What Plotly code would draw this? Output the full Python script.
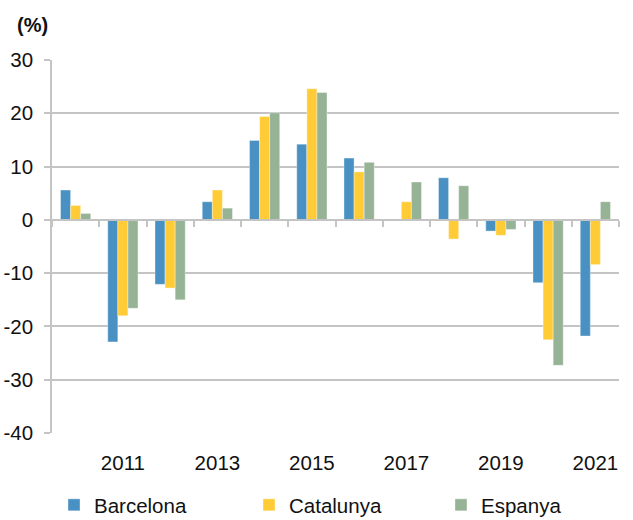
import plotly.graph_objects as go

years = [2010, 2011, 2012, 2013, 2014, 2015, 2016, 2017, 2018, 2019, 2020, 2021]
barcelona = [5.6, -22.9, -12.1, 3.4, 14.9, 14.2, 11.6, 0.1, 7.9, -2.1, -11.8, -21.8]
catalunya = [2.7, -18.0, -12.8, 5.6, 19.4, 24.6, 9.0, 3.4, -3.6, -2.9, -22.5, -8.4]
espanya = [1.2, -16.6, -15.0, 2.2, 20.1, 23.9, 10.8, 7.1, 6.4, -1.8, -27.3, 3.4]
tick_years = [2011, 2013, 2015, 2017, 2019, 2021]
y_ticks = [30, 20, 10, 0, -10, -20, -30, -40]

series = [("Barcelona", barcelona, "#4A91C3"),
          ("Catalunya", catalunya, "#FFCC38"),
          ("Espanya", espanya, "#97B396")]

FONT = "Liberation Sans, Arial, sans-serif"
GRID = "#C4C4C4"
FS = 20.5

W, H = 633, 520
ML, MR, MT, MB = 52, 14, 60, 87
plot_h = H - MT - MB
plot_w = W - ML - MR

# one legend per series so each entry sits where the reference puts it
legend_ids = ["legend", "legend2", "legend3"]
legend_left_px = [54, 249, 441]

fig = go.Figure()
for (name, vals, col), lid in zip(series, legend_ids):
    fig.add_trace(go.Bar(x=years, y=vals, name=name, legend=lid,
                         marker=dict(color=col, line=dict(color="rgba(255,255,255,0.6)", width=0.6))))

# invisible trace to carry the zero-line axis with boundary ticks
fig.add_trace(go.Scatter(x=[years[0], years[-1]], y=[0, 0], xaxis="x2", mode="lines",
                         line=dict(width=0), showlegend=False, hoverinfo="skip"))

y_min, y_max = -40, 30
legend_common = dict(orientation="h", xanchor="left", y=-(MB + 5) / plot_h, yanchor="bottom",
                     bgcolor="rgba(0,0,0,0)", font=dict(size=FS), itemwidth=30)

fig.update_layout(
    width=W, height=H,
    margin=dict(l=ML, r=MR, t=MT, b=MB, autoexpand=False),
    paper_bgcolor="white", plot_bgcolor="white",
    font=dict(family=FONT, size=FS, color="#111111"),
    barmode="group", bargap=0.36, bargroupgap=0,
    xaxis=dict(range=[2009.5, 2021.5], tickvals=tick_years,
               ticktext=[str(y) for y in tick_years],
               showgrid=False, zeroline=False, showline=False, ticks="",
               ticklabelstandoff=15, tickfont=dict(size=FS), automargin=False),
    xaxis2=dict(range=[2009.5, 2021.5], overlaying="x", anchor="free",
                position=(0 - y_min) / (y_max - y_min), side="bottom",
                tickvals=[y + 0.5 for y in years[:-1]] + [2009.5, 2021.5],
                showticklabels=False, ticks="outside", ticklen=6, tickwidth=1.5,
                tickcolor=GRID, showline=True, linecolor=GRID, linewidth=1.5,
                showgrid=False, zeroline=False, automargin=False),
    yaxis=dict(range=[y_min, y_max], tickvals=y_ticks,
               ticktext=[str(v) for v in y_ticks],
               showgrid=True, gridcolor=GRID, gridwidth=1.5, zeroline=False,
               showline=True, linecolor=GRID, linewidth=1.5,
               ticks="outside", ticklen=6, tickwidth=1.5, tickcolor=GRID,
               ticklabelstandoff=7, tickfont=dict(size=FS), automargin=False),
    annotations=[dict(text="<b>(%)</b>", xref="paper", yref="paper",
                      x=-37 / plot_w, y=1 + (MT - 25) / plot_h,
                      xanchor="left", yanchor="middle",
                      showarrow=False, font=dict(size=20, color="#111111"))],
)
for lid, lx in zip(legend_ids, legend_left_px):
    fig.update_layout({lid: dict(legend_common, x=(lx - ML) / plot_w)})

fig.write_html("out.html", config={"displayModeBar": False},
               post_script="document.body.style.margin='0';document.body.style.padding='0';")
